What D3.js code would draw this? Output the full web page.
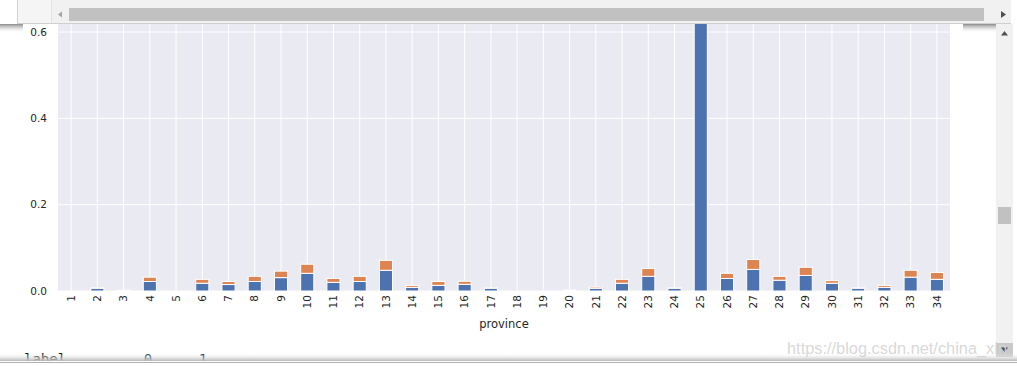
<!DOCTYPE html>
<html>
<head>
<meta charset="utf-8">
<script src="https://cdn.jsdelivr.net/npm/d3@7"></script>
<style>
  html, body { margin: 0; padding: 0; background: #fff; overflow: hidden; }
  svg { display: block; }
</style>
</head>
<body>
<div id="chart"></div>
<script>
// province ids on the x axis
const provinces = d3.range(1, 35).map(String);

// share of label 0 (blue) and label 1 (orange) per province
const label0 = [
  0.000, 0.0065, 0.001, 0.022, 0.000, 0.018, 0.015, 0.022, 0.031, 0.041,
  0.020, 0.022, 0.048, 0.0085, 0.013, 0.0155, 0.0065, 0.000, 0.000, 0.001,
  0.0065, 0.018, 0.034, 0.0065, 0.680, 0.029, 0.050, 0.025, 0.036, 0.018,
  0.0065, 0.0085, 0.032, 0.027
];
const label1 = [
  0.000, 0.001, 0.0005, 0.010, 0.000, 0.009, 0.007, 0.012, 0.015, 0.021,
  0.009, 0.012, 0.023, 0.0045, 0.009, 0.007, 0.001, 0.000, 0.000, 0.001,
  0.003, 0.009, 0.018, 0.0005, 0.000, 0.012, 0.023, 0.009, 0.019, 0.006,
  0.0005, 0.0045, 0.016, 0.016
];
const yTicks = [0.0, 0.2, 0.4, 0.6];

const W = 1017, H = 366;
const plot = { left: 58, right: 950, top: 23, bottom: 291 };

const svg = d3.select('#chart').append('svg')
  .attr('width', W).attr('height', H)
  .attr('font-family', '"DejaVu Sans", sans-serif');

const x = d3.scalePoint().domain(provinces)
  .range([plot.left, plot.right]).padding(0.5);
const barW = x.step() * 0.5;

const y = d3.scaleLinear().domain([0, 0.6]).range([plot.bottom, 32]);

const defs = svg.append('defs');
defs.append('clipPath').attr('id', 'plot-clip')
  .append('rect')
  .attr('x', plot.left).attr('y', 0)
  .attr('width', plot.right - plot.left).attr('height', plot.bottom);

// axes background
svg.append('rect')
  .attr('x', plot.left).attr('y', 0)
  .attr('width', plot.right - plot.left).attr('height', plot.bottom)
  .attr('fill', '#EAEAF2');

const grid = svg.append('g').attr('stroke', '#fff').attr('stroke-width', 1);
grid.selectAll('line.v').data(provinces).join('line')
  .attr('class', 'v')
  .attr('x1', d => x(d)).attr('x2', d => x(d))
  .attr('y1', 0).attr('y2', plot.bottom);
grid.selectAll('line.h').data(yTicks).join('line')
  .attr('class', 'h')
  .attr('x1', plot.left).attr('x2', plot.right)
  .attr('y1', d => y(d)).attr('y2', d => y(d));

// stacked bars
const rows = provinces.map((p, i) => ({ p, a: label0[i], b: label1[i] }));
const bars = svg.append('g').attr('clip-path', 'url(#plot-clip)')
  .attr('stroke', '#fff').attr('stroke-width', 1);

bars.selectAll('rect.s0').data(rows).join('rect')
  .attr('class', 's0')
  .attr('x', d => x(d.p) - barW / 2).attr('width', barW)
  .attr('y', d => y(d.a)).attr('height', d => y(0) - y(d.a))
  .attr('fill', '#4C72B0');

bars.selectAll('rect.s1').data(rows).join('rect')
  .attr('class', 's1')
  .attr('x', d => x(d.p) - barW / 2).attr('width', barW)
  .attr('y', d => y(d.a + d.b)).attr('height', d => y(d.a) - y(d.a + d.b))
  .attr('fill', '#DD8452');

// tick labels
svg.append('g').selectAll('text').data(yTicks).join('text')
  .attr('x', 47).attr('y', d => y(d))
  .attr('dy', '0.35em')
  .attr('text-anchor', 'end')
  .attr('font-size', 10.5).attr('fill', '#262626')
  .text(d3.format('.1f'));

svg.append('g').selectAll('text').data(provinces).join('text')
  .attr('transform', d => `translate(${x(d)},295) rotate(-90)`)
  .attr('dy', '0.35em')
  .attr('text-anchor', 'end')
  .attr('font-size', 10.5).attr('fill', '#262626')
  .text(d => d);

svg.append('text')
  .attr('x', (plot.left + plot.right) / 2).attr('y', 328)
  .attr('text-anchor', 'middle')
  .attr('font-size', 11.5).attr('fill', '#262626')
  .text('province');

// notebook chrome round the output cell
const chrome = svg.append('g');

const shadeDown = defs.append('linearGradient').attr('id', 'shade-down')
  .attr('x1', 0).attr('y1', 0).attr('x2', 0).attr('y2', 1);
shadeDown.append('stop').attr('offset', '0%').attr('stop-color', '#8a8a8a');
shadeDown.append('stop').attr('offset', '100%').attr('stop-color', '#fff').attr('stop-opacity', 0);

const shadeUp = defs.append('linearGradient').attr('id', 'shade-up')
  .attr('x1', 0).attr('y1', 0).attr('x2', 0).attr('y2', 1);
shadeUp.append('stop').attr('offset', '0%').attr('stop-color', '#fff').attr('stop-opacity', 0);
shadeUp.append('stop').attr('offset', '100%').attr('stop-color', '#b5b5b5');

// top: horizontal scrollbar
chrome.append('rect').attr('x', 0).attr('y', 0).attr('width', W).attr('height', 23).attr('fill', '#fff');
chrome.append('rect').attr('x', 17).attr('y', 0).attr('width', 35).attr('height', 23).attr('fill', '#f5f5f5');
chrome.append('rect').attr('x', 52).attr('y', 0).attr('width', 959).attr('height', 23).attr('fill', '#f1f1f1');
chrome.append('line').attr('x1', 17.5).attr('x2', 17.5).attr('y1', 0).attr('y2', 23).attr('stroke', '#cfcfcf');
chrome.append('line').attr('x1', 51.5).attr('x2', 51.5).attr('y1', 0).attr('y2', 23).attr('stroke', '#e2e2e2');
chrome.append('line').attr('x1', 17).attr('x2', 1011).attr('y1', 23.5).attr('y2', 23.5).attr('stroke', '#cfcfcf');
chrome.append('rect').attr('x', 69).attr('y', 8).attr('width', 915).attr('height', 13).attr('fill', '#c1c1c1');
chrome.append('path').attr('d', 'M58,14.5 L62,11.5 L62,17.5 Z').attr('fill', '#a3a3a3');
chrome.append('path').attr('d', 'M1001,11 L1006,14.5 L1001,18 Z').attr('fill', '#505050');

// shadows under the top band
chrome.append('rect').attr('x', 0).attr('y', 24).attr('width', 23).attr('height', 9).attr('fill', 'url(#shade-down)');
chrome.append('rect').attr('x', 963).attr('y', 24).attr('width', 33).attr('height', 9).attr('fill', 'url(#shade-down)');

// right: vertical scrollbar
chrome.append('rect').attr('x', 996).attr('y', 24).attr('width', 17).attr('height', 333).attr('fill', '#f1f1f1');
chrome.append('path').attr('d', 'M1001,35.5 L1004.5,31 L1008,35.5 Z').attr('fill', '#505050');
chrome.append('rect').attr('x', 998).attr('y', 207).attr('width', 13).attr('height', 17).attr('fill', '#c1c1c1');
chrome.append('rect').attr('x', 996).attr('y', 343).attr('width', 17).attr('height', 14).attr('fill', '#c9c9c9');
chrome.append('path').attr('d', 'M1001,347.5 L1008,347.5 L1004.5,352 Z').attr('fill', '#505050');

// bottom: next output cell peeking in
chrome.append('text')
  .attr('x', 24).attr('y', 364)
  .attr('font-family', '"DejaVu Sans Mono", monospace').attr('font-size', 14)
  .attr('fill', '#111')
  .text('label');
chrome.append('text').attr('x', 148).attr('y', 364)
  .attr('font-family', '"DejaVu Sans Mono", monospace').attr('font-size', 14)
  .attr('fill', '#0d2a5c').attr('text-anchor', 'middle').text('0');
chrome.append('text').attr('x', 203).attr('y', 364)
  .attr('font-family', '"DejaVu Sans Mono", monospace').attr('font-size', 14)
  .attr('fill', '#0d2a5c').attr('text-anchor', 'middle').text('1');
chrome.append('rect').attr('x', 0).attr('y', 353).attr('width', W).attr('height', 8).attr('fill', 'url(#shade-up)');
chrome.append('rect').attr('x', 0).attr('y', 361).attr('width', W).attr('height', 5).attr('fill', '#fff');
chrome.append('line').attr('x1', 0).attr('x2', W).attr('y1', 362.5).attr('y2', 362.5).attr('stroke', '#b0b0b0');

// watermark
chrome.append('text')
  .attr('x', 787).attr('y', 354)
  .attr('font-family', '"Liberation Sans", Arial, sans-serif').attr('font-size', 16)
  .attr('fill', '#d4d4d4').attr('fill-opacity', 0.9)
  .attr('textLength', 220).attr('lengthAdjust', 'spacingAndGlyphs')
  .text('https://blog.csdn.net/china_xin');
</script>
</body>
</html>
